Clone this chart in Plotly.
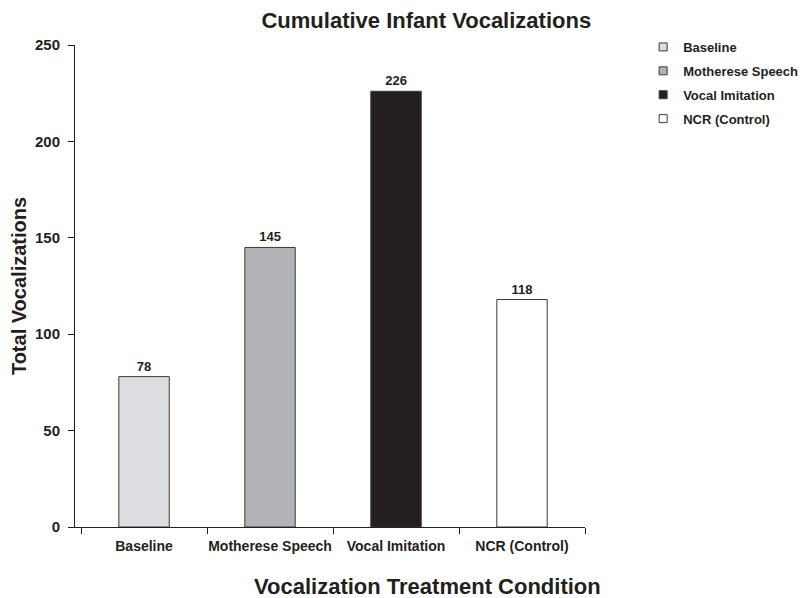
import plotly.graph_objects as go

categories = ["Baseline", "Motherese Speech", "Vocal Imitation", "NCR (Control)"]
values = [78, 145, 226, 118]
colors = ["#dcdde0", "#b2b3b7", "#231f20", "#ffffff"]
y_ticks = [0, 50, 100, 150, 200, 250]

FONT = "Liberation Sans, Arial, sans-serif"
INK = "#231f20"

fig = go.Figure()
for c, v, col in zip(categories, values, colors):
    fig.add_trace(go.Bar(
        x=[c], y=[v], name=c, showlegend=False,
        marker=dict(color=col, line=dict(color="#3a3a3a", width=1)),
        text=[str(v)], textposition="outside",
        textfont=dict(family=FONT, size=13, color=INK, weight="bold"),
        cliponaxis=False, width=0.4,
    ))
    # legend entry with a small square swatch
    fig.add_trace(go.Scatter(
        x=[None], y=[None], mode="markers", name=c, legendgroup=c,
        marker=dict(symbol="square", size=8, color=col,
                    line=dict(color="#3a3a3a", width=1)),
    ))

fig.update_layout(
    width=806, height=598,
    paper_bgcolor="white", plot_bgcolor="white",
    margin=dict(l=67, r=229, t=37, b=79, autoexpand=False),
    title=dict(text="Cumulative Infant Vocalizations", x=0.519, xanchor="center",
               y=0.992, yanchor="top",
               font=dict(family=FONT, size=22, color=INK, weight="bold")),
    barmode="overlay",
    showlegend=True,
    legend=dict(x=1.114, xanchor="left", y=1.027, yanchor="top",
                font=dict(family=FONT, size=13, color=INK, weight="bold"),
                tracegroupgap=4, itemwidth=30, bgcolor="rgba(0,0,0,0)"),
    font=dict(family=FONT, color=INK),
    annotations=[dict(
        text="Vocalization Treatment Condition", xref="paper", yref="paper",
        x=0.692, y=-0.124, xanchor="center", yanchor="middle", showarrow=False,
        font=dict(family=FONT, size=22, color=INK, weight="bold"),
    )],
)

fig.update_xaxes(
    categoryorder="array", categoryarray=categories,
    range=[-0.548, 3.5],
    showline=True, linecolor=INK, linewidth=1,
    ticks="outside", tickson="boundaries", ticklen=6, tickcolor=INK,
    tickangle=0, ticklabelstandoff=6,
    tickfont=dict(family=FONT, size=14, color=INK, weight="bold"),
    showgrid=False, zeroline=False, automargin=False,
)
fig.update_yaxes(
    range=[0, 250], tickvals=y_ticks,
    showline=True, linecolor=INK, linewidth=1,
    ticks="outside", ticklen=6, tickcolor=INK,
    ticklabelstandoff=5,
    tickfont=dict(family=FONT, size=15, color=INK, weight="bold"),
    title=dict(text="Total Vocalizations", standoff=4,
               font=dict(family=FONT, size=20, color=INK, weight="bold")),
    showgrid=False, zeroline=False, automargin=False,
)

fig.write_html("out.html")
